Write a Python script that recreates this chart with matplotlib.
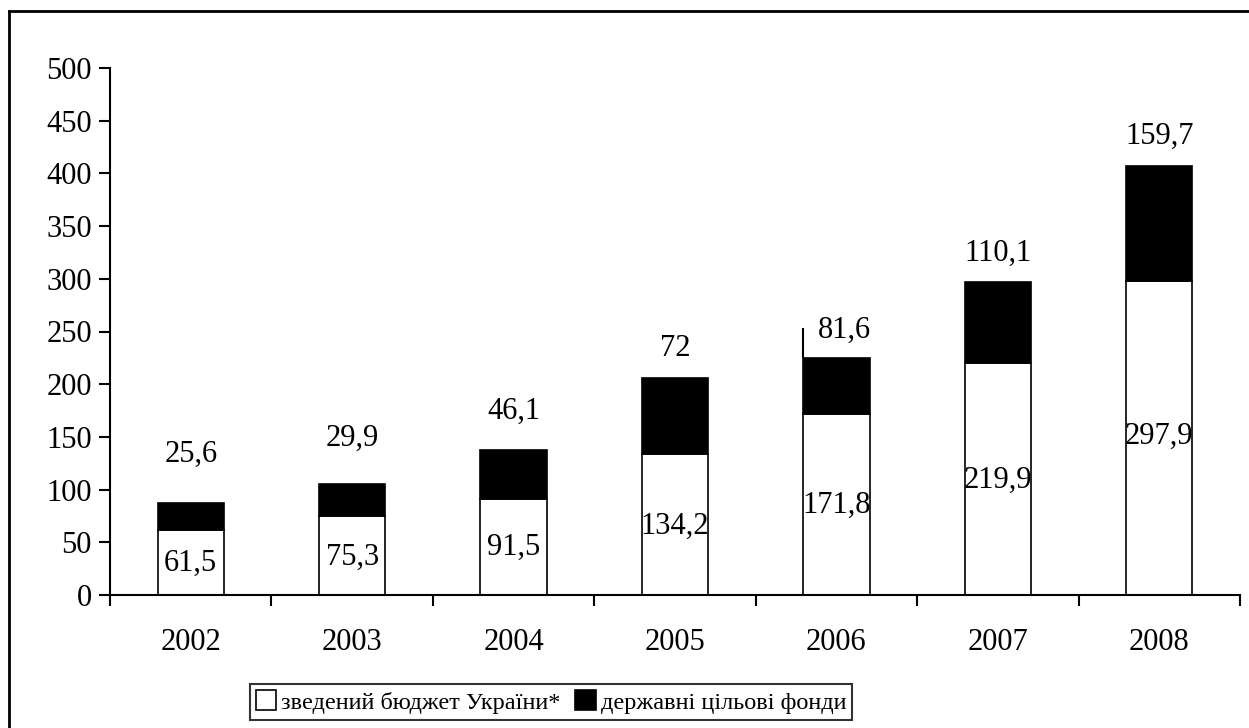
import matplotlib

matplotlib.use("Agg")
import matplotlib.pyplot as plt
from matplotlib.lines import Line2D
from matplotlib.patches import Patch

plt.rcParams["font.family"] = ["Liberation Serif", "DejaVu Serif"]

years = ["2002", "2003", "2004", "2005", "2006", "2007", "2008"]
budget = [61.5, 75.3, 91.5, 134.2, 171.8, 219.9, 297.9]
funds = [25.6, 29.9, 46.1, 72, 81.6, 110.1, 159.7]
# black segments as actually drawn in the source picture (not all match the labels)
funds_drawn = [25.6, 29.9, 46.1, 72, 53.4, 77.3, 109.2]

# label anchor heights
budget_label_y = [30, 36, 45, 65, 85, 109, 151]
funds_label_y = [133, 149, 174, 234, 251, 324, 435]

W, H = 1249, 728
fig = plt.figure(figsize=(W / 100, H / 100), dpi=100)
ax = fig.add_axes([110 / W, (H - 595) / H, (1240 - 110) / W, (595 - 68) / H])

x = list(range(len(years)))
bw = 0.41
ax.bar(x, budget, bw, color="white", edgecolor="black", linewidth=1.2, zorder=2)
ax.bar(x, funds_drawn, bw, bottom=budget, color="black", edgecolor="black",
       linewidth=1.2, zorder=2)

# stray edge line on 2006 that reaches the labelled total
i = years.index("2006")
ax.vlines(i - bw / 2, budget[i] + funds_drawn[i], budget[i] + funds[i],
          color="black", linewidth=1.5, zorder=3)

fmt = lambda v: f"{v:g}".replace(".", ",")
for xi, b, f, by, fy in zip(x, budget, funds, budget_label_y, funds_label_y):
    ax.text(xi, by, fmt(b), ha="center", va="center", fontsize=22, zorder=4)
    dx = 0.05 if fmt(f) == "81,6" else 0
    ax.text(xi + dx, fy, fmt(f), ha="center", va="center", fontsize=22, zorder=4)

ax.set_xlim(-0.5, len(years) - 0.5)
ax.set_ylim(0, 500)
ax.set_yticks(range(0, 501, 50))
ax.set_xticks(x)
ax.set_xticklabels(years)
ax.set_xticks([k - 0.5 for k in range(len(years) + 1)], minor=True)
ax.tick_params(axis="x", which="major", length=0, pad=24, labelsize=22)
ax.tick_params(axis="x", which="minor", length=8, width=1.5, direction="out")
ax.tick_params(axis="y", length=8, width=1.5, direction="out", pad=5, labelsize=22)
for side in ("top", "right"):
    ax.spines[side].set_visible(False)
for side in ("left", "bottom"):
    ax.spines[side].set_linewidth(1.5)

handles = [
    Patch(facecolor="white", edgecolor="black", linewidth=1.2),
    Patch(facecolor="black", edgecolor="black", linewidth=1.2),
]
leg = fig.legend(handles, ["зведений бюджет України*", "державні цільові фонди"],
                 loc="center", bbox_to_anchor=(551 / W, 1 - 702 / H), ncol=2,
                 fontsize=17.5, frameon=True, fancybox=False, handlelength=0.85,
                 handleheight=0.85, handletextpad=0.2, columnspacing=0.6,
                 borderpad=0.25, borderaxespad=0)
leg.get_frame().set_edgecolor("black")
leg.get_frame().set_linewidth(1.5)

# outer frame (only top and left edges fall inside the image)
fig.add_artist(Line2D([9 / W, 1], [1 - 11 / H, 1 - 11 / H], color="black",
                      linewidth=2, transform=fig.transFigure))
fig.add_artist(Line2D([9 / W, 9 / W], [0, 1 - 11 / H], color="black",
                      linewidth=2, transform=fig.transFigure))

fig.savefig("out.png", dpi=100)
